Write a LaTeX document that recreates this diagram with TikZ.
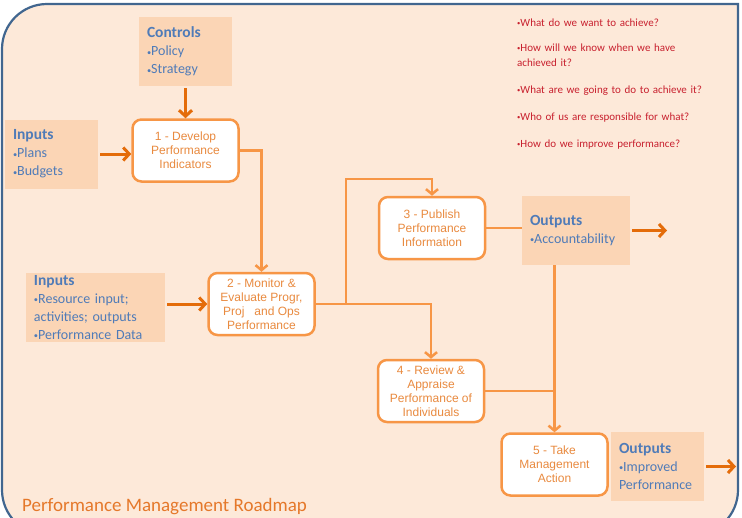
\documentclass[tikz,border=0pt]{standalone}
\usepackage{fontspec}
\setmainfont{Carlito}
\newfontfamily\boxfont{Liberation Sans}
\usepackage{tikz}
\usepackage{xcolor}
\usetikzlibrary{
  positioning, arrows.meta, calc,
}
\definecolor{cFrame}    {HTML}{41668F}
\definecolor{cPeach}    {HTML}{FDE9D9}
\definecolor{cSideFill} {HTML}{FBD5B5}
\definecolor{cBlueText} {HTML}{4F7BB8}
\definecolor{cStepLine} {HTML}{F79646}
\definecolor{cStepText} {HTML}{E98A3F}
\definecolor{cArrowDark}{HTML}{E46C0A}
\definecolor{cQuestion} {HTML}{C8202E}
\definecolor{cTitle}    {HTML}{E5782A}

\tikzset{
  stepbox/.style={draw=cStepLine, line width=2.5pt, fill=white, rounded corners=9pt,
    minimum width=106pt, minimum height=62pt, inner sep=0pt, align=center,
    font=\boxfont\fontsize{12}{14}\selectfont, text=cStepText},
  sidebox/.style={fill=cSideFill, inner xsep=8pt, inner ysep=0pt, align=left,
    minimum height=69pt, text=cBlueText, font=\fontsize{14}{18}\selectfont},
  feed/.style={draw=cArrowDark, line width=3pt, shorten <=2pt,
    -{Straight Barb[length=6pt,width=13pt]}},
  flow/.style={draw=cStepLine, line width=2.5pt},
  flowtip/.style={-{Straight Barb[length=5pt,width=12pt]}},
}
\newcommand{\sidehead}[1]{{\bfseries\fontsize{15.5}{18}\selectfont #1}}
\newcommand{\dotmark}{\raisebox{0.1ex}{\scalebox{0.6}{•}}}

\begin{document}
\begin{tikzpicture}[x=1pt, y=-1pt]
  \useasboundingbox (0,0) rectangle (742,517);
  \clip (0,0) rectangle (742,517);
  % frame: round top-left and bottom-right only
  \filldraw[fill=cPeach, draw=cFrame, line width=2.2pt]
    (2,535) [rounded corners=45pt] -- (2,4) [sharp corners] -- (738,4)
    [rounded corners=45pt] -- (738,535) -- cycle;

  % questions and title
  \node[anchor=base west, inner sep=0pt, text width=230pt, align=left,
        text=cQuestion, font=\fontsize{11}{15}\selectfont] (questions) at (517,26)
    {\dotmark What do we want to achieve?\\[10pt]
     \dotmark How will we know when we have\\achieved it?\\[12pt]
     \dotmark What are we going to do to achieve it?\\[12pt]
     \dotmark Who of us are responsible for what?\\[12pt]
     \dotmark How do we improve performance?};
  \node[anchor=base west, inner sep=0pt, text=cTitle,
        font=\fontsize{19}{22}\selectfont] (title) at (22,511)
    {Performance Management Roadmap};

  % side boxes
  \node[sidebox, text width=77pt]  (controls) at (185.5,51.5)
    {\sidehead{Controls}\\\dotmark Policy\\\dotmark Strategy};
  \node[sidebox, text width=77pt]  (inputsA)  at (51.5,154)
    {\sidehead{Inputs}\\\dotmark Plans\\\dotmark Budgets};
  \node[sidebox, text width=123pt] (inputsB)  at (95.5,307.5)
    {\sidehead{Inputs}\\\dotmark Resource input;\\activities; outputs\\\dotmark Performance Data};
  \node[sidebox, text width=92pt]  (outputsA) at (576,230.5)
    {\sidehead{Outputs}\\\dotmark Accountability};
  \node[sidebox, text width=77pt]  (outputsB) at (657.5,466.5)
    {\sidehead{Outputs}\\\dotmark Improved\\Performance};

  % the five steps
  \foreach \n/\x/\y/\txt in
    {1/185.5/150.5/{1 - Develop\\Performance\\Indicators},
     2/261.5/304/{2 - Monitor \&\\Evaluate Progr,\\Proj\ \ \ and Ops\\Performance},
     3/432/228/{3 - Publish\\Performance\\Information},
     4/431/391/{4 - Review \&\\Appraise\\Performance of\\Individuals},
     5/554.5/464.5/{5 - Take\\Management\\Action}}{
    \node[stepbox] (step\n) at (\x,\y) {\txt};
  }

  \coordinate (split)   at (346,304);
  \coordinate (riseTop) at (346,179);
  \coordinate (outEndA) at (667,230.5);
  \coordinate (outEndB) at (736,466.5);

  % connectors
  \draw[feed] (controls.south) -- (step1.north);
  \draw[feed] (inputsA.east) -- (inputsA.east -| step1.west);
  \draw[feed] (inputsB.east |- step2.west) -- (step2.west);
  \draw[flow, flowtip] (step1.east) -| (step2.north);
  \draw[flow] (step2.east) -- (split);
  \draw[flow, flowtip] (split) -- (riseTop) -| (step3.north);
  \draw[flow, flowtip] (split) -| (step4.north);
  \draw[flow] (step3.east) -- (step3.east -| outputsA.west);
  \draw[feed] (outputsA.east) -- (outEndA);
  \draw[flow, flowtip] (step5.north |- outputsA.south) -- (step5.north);
  \draw[flow] (step4.east) -- (step4.east -| step5.north);
  \draw[feed] (outputsB.east) -- (outEndB);
\end{tikzpicture}
\end{document}
